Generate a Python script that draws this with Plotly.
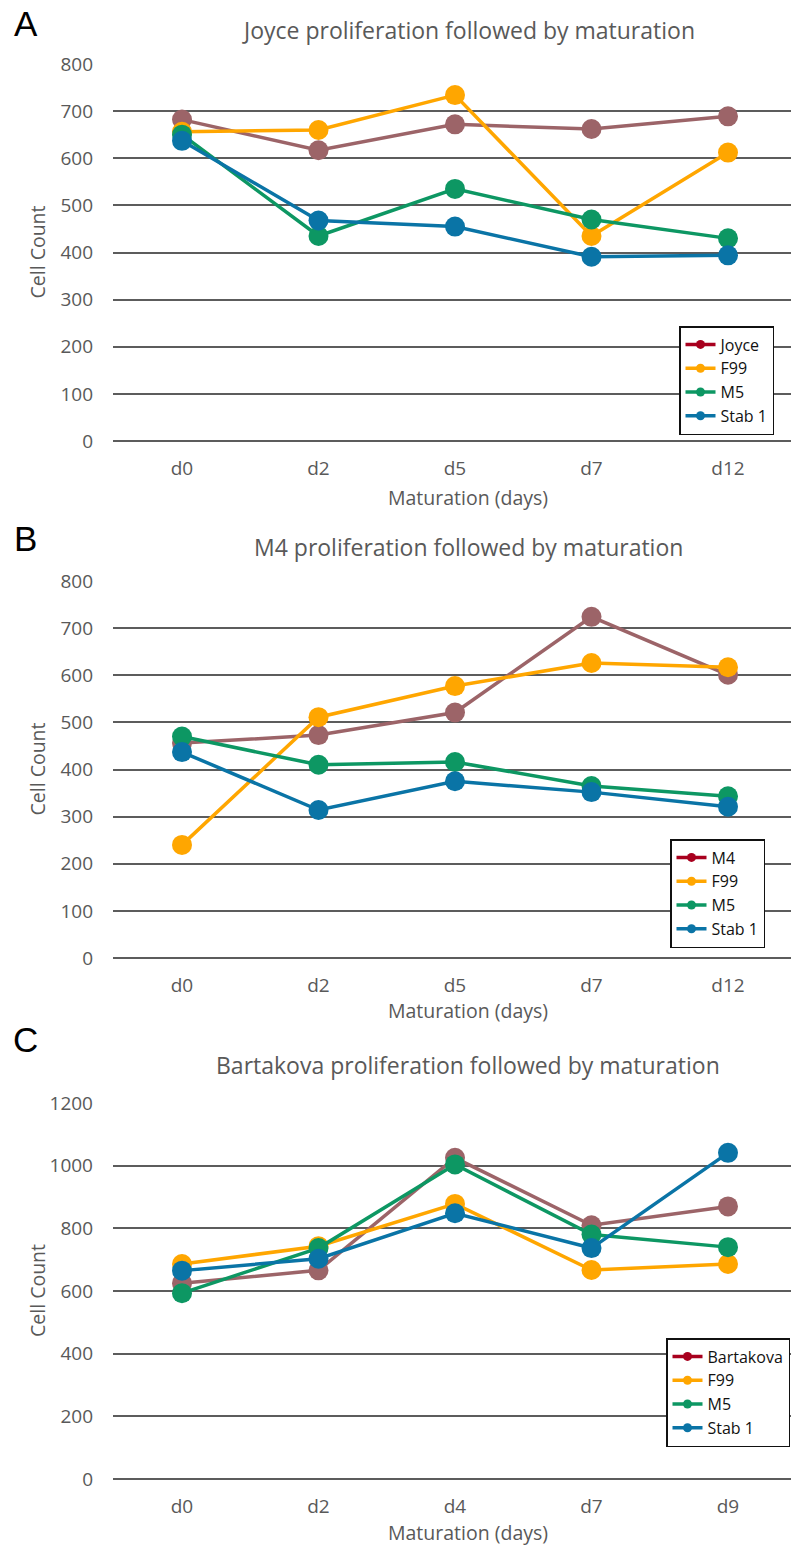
import plotly.graph_objects as go

# ---------------- data ----------------
days_a = ["d0", "d2", "d5", "d7", "d12"]
joyce_a = [682, 617, 672, 662, 689]
f99_a = [656, 660, 734, 435, 612]
m5_a = [650, 435, 535, 470, 430]
stab1_a = [637, 468, 455, 391, 394]

days_b = ["d0", "d2", "d5", "d7", "d12"]
m4_b = [456, 473, 521, 724, 601]
f99_b = [240, 511, 577, 626, 617]
m5_b = [470, 410, 416, 365, 343]
stab1_b = [437, 314, 375, 352, 321]

days_c = ["d0", "d2", "d4", "d7", "d9"]
bart_c = [625, 666, 1025, 810, 870]
f99_c = [686, 743, 878, 667, 686]
m5_c = [593, 737, 1004, 780, 740]
stab1_c = [665, 703, 848, 737, 1041]

titles = ["Joyce proliferation followed by maturation",
          "M4 proliferation followed by maturation",
          "Bartakova proliferation followed by maturation"]
first_names = ["Joyce", "M4", "Bartakova"]
other_names = ["F99", "M5", "Stab 1"]
letters = ["A", "B", "C"]
y_max = [800, 800, 1200]
y_dtick = [100, 100, 200]

# ---------------- styling ----------------
W, H = 791, 1546
LINE_COLORS = ["#9c6468", "#ffa600", "#0d9763", "#0a74a6"]
LEGEND_COLORS = ["#a8001e", "#ffa600", "#0d9763", "#0a74a6"]
GREY = "#595959"
FONT = "Open Sans, Noto Sans, DejaVu Sans, sans-serif"

def py(px):
    return 1 - px / H

# plot area pixel rows (top, bottom) of each panel
rows_px = [(64, 441), (581, 958), (1103, 1479)]
legend_pos = [(679, 326), (670, 839), (666, 1338)]
title_y = [30, 547, 1065]
letter_y = [24, 538, 1039]
xtitle_y = [497, 1010, 1532]

x_left_px, d0_px, step_px = 113, 182, 136.5
x_range = [(x_left_px - d0_px) / step_px, (W - d0_px) / step_px]

fig = go.Figure()
panels = [
    (days_a, [joyce_a, f99_a, m5_a, stab1_a]),
    (days_b, [m4_b, f99_b, m5_b, stab1_b]),
    (days_c, [bart_c, f99_c, m5_c, stab1_c]),
]

annotations = []
for i, (days, series) in enumerate(panels):
    k = "" if i == 0 else str(i + 1)
    names = [first_names[i]] + other_names
    lg = "legend" + k
    for j, vals in enumerate(series):
        fig.add_trace(go.Scatter(
            x=days, y=vals, mode="lines+markers", name=names[j],
            line=dict(color=LINE_COLORS[j], width=3.5),
            marker=dict(color=LINE_COLORS[j], size=20),
            xaxis="x" + k, yaxis="y" + k, showlegend=False,
            cliponaxis=False,
        ))
    for j in range(4):
        fig.add_trace(go.Scatter(
            x=[None], y=[None], mode="lines+markers", name=names[j],
            line=dict(color=LEGEND_COLORS[j], width=3.5),
            marker=dict(color=LEGEND_COLORS[j], size=9),
            xaxis="x" + k, yaxis="y" + k, showlegend=True,
            legend=lg, legendgroup=f"g{i}{j}",
        ))
    top, bot = rows_px[i]
    fig.layout["xaxis" + k] = dict(
        domain=[x_left_px / W, 1], anchor="y" + k, type="category",
        range=x_range, showgrid=False, showline=False, zeroline=False,
        ticks="", ticklabelstandoff=14, automargin=False,
        tickfont=dict(family=FONT, size=19, color=GREY),
    )
    fig.layout["yaxis" + k] = dict(
        domain=[py(bot), py(top)], anchor="x" + k,
        range=[0, y_max[i]], dtick=y_dtick[i], tick0=0,
        showgrid=True, gridcolor="#5c5c5c", gridwidth=1.5,
        zeroline=True, zerolinecolor="#5c5c5c", zerolinewidth=1.5,
        showline=False, ticks="", ticklabelstandoff=19, automargin=False,
        tickfont=dict(family=FONT, size=19, color=GREY),
    )
    lx, ly = legend_pos[i]
    fig.layout[lg] = dict(
        x=lx / W, y=py(ly), xanchor="left", yanchor="top",
        bgcolor="white", bordercolor="#111111", borderwidth=1.5,
        font=dict(family=FONT, size=16, color="#111111"),
        tracegroupgap=0, itemwidth=30,
    )
    annotations += [
        dict(text=titles[i], x=468 / W, y=py(title_y[i]), xref="paper", yref="paper",
             xanchor="center", yanchor="middle",
             showarrow=False, font=dict(family=FONT, size=23, color=GREY)),
        dict(text=letters[i], x=26 / W, y=py(letter_y[i]), xref="paper", yref="paper",
             xanchor="center", yanchor="middle",
             showarrow=False, font=dict(family="Liberation Sans, Arial, sans-serif", size=35, color="black")),
        dict(text="Maturation (days)", x=468 / W, y=py(xtitle_y[i]), xref="paper", yref="paper",
             xanchor="center", yanchor="middle",
             showarrow=False, font=dict(family=FONT, size=19.5, color=GREY)),
        dict(text="Cell Count", x=37 / W, y=py((top + bot) / 2), xref="paper", yref="paper",
             xanchor="center", yanchor="middle",
             showarrow=False, textangle=-90, font=dict(family=FONT, size=19.5, color=GREY)),
    ]

fig.update_layout(
    width=W, height=H, margin=dict(l=0, r=0, t=0, b=0, autoexpand=False),
    paper_bgcolor="white", plot_bgcolor="white",
    annotations=annotations,
)
fig.write_html("out.html")
